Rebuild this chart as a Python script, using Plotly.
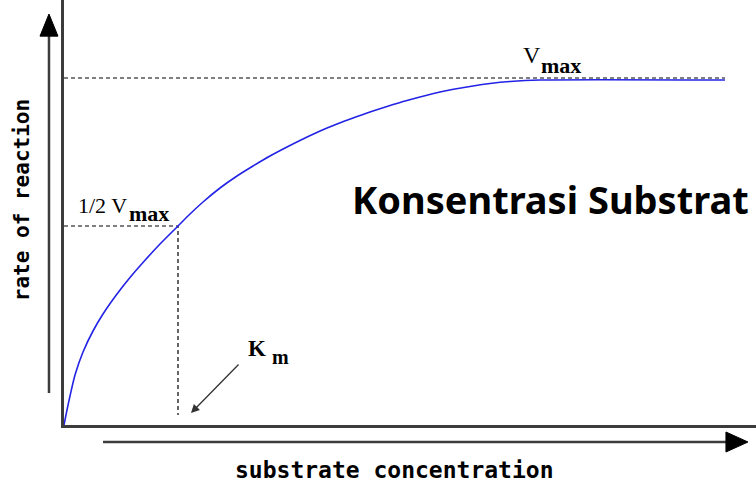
import plotly.graph_objects as go

# Reaction rate vs. substrate concentration (arbitrary units)
substrate = [0, 0.1, 0.3, 0.6, 1.1, 1.9, 2.9, 3.9, 5.3, 6.6, 7.9, 9.6, 11.4,
             12.6, 13.9, 15.6, 17.3, 18.9, 20.6, 22.3, 23.9, 25.6, 27.3, 28.9,
             30.6, 32.3, 34.3, 37.6, 40.9, 42.6, 44.6, 47.6, 66.1]
rate = [0, 0.5, 1.5, 2.9, 5.0, 7.3, 9.4, 11.1, 13.1, 14.75, 16.25, 18.1, 19.9,
        21.1, 22.3, 23.7, 24.9, 25.9, 26.9, 27.8, 28.6, 29.4, 30.1, 30.7,
        31.3, 31.85, 32.45, 33.3, 33.9, 34.15, 34.35, 34.5, 34.5]

v_max = 34.7
half_v_max = 19.9
k_m = 11.4
x_end = 66.1
km_line_bottom = 1.0

X_RANGE = [0, 69.2]
Y_RANGE = [0, 42.5]

AXIS_GREY = "#3c3c3c"
CURVE_BLUE = "#2323e6"

fig = go.Figure()

# Vmax reference line
fig.add_trace(go.Scatter(
    x=[0, x_end], y=[v_max, v_max], mode="lines",
    line=dict(color="black", width=1.2, dash="4px,3px"),
    hoverinfo="skip"))

# 1/2 Vmax and Km guides
fig.add_trace(go.Scatter(
    x=[0, k_m, k_m], y=[half_v_max, half_v_max, km_line_bottom], mode="lines",
    line=dict(color="black", width=1.2, dash="4px,3px"),
    hoverinfo="skip"))

# Saturation curve
fig.add_trace(go.Scatter(
    x=substrate, y=rate, mode="lines",
    line=dict(color=CURVE_BLUE, width=1.6, shape="spline", smoothing=0.7),
    hoverinfo="skip"))

serif = "Liberation Serif"
mono = "DejaVu Sans Mono"

annotations = [
    # Vmax label
    dict(x=46.8, y=37.0, text="V", font=dict(family=serif, size=24, color="black")),
    dict(x=49.7, y=35.95, text="<b>max</b>", font=dict(family=serif, size=22, color="black")),
    # 1/2 Vmax label
    dict(x=3.8, y=22.0, text="1/2 V", font=dict(family=serif, size=22, color="black")),
    dict(x=8.45, y=21.15, text="<b>max</b>", font=dict(family=serif, size=22, color="black")),
    # Km label
    dict(x=19.3, y=7.7, text="<b>K</b>", font=dict(family=serif, size=23, color="black")),
    dict(x=21.6, y=6.85, text="<b>m</b>", font=dict(family=serif, size=20, color="black")),
    # Heading inside the plot
    dict(x=48.6, y=22.6, text="<b>Konsentrasi Substrat</b>",
         font=dict(family="Noto Sans", size=38, color="black")),
]
for a in annotations:
    a.update(xref="x", yref="y", showarrow=False, xanchor="center", yanchor="middle")

# Arrow pointing at Km
annotations.append(dict(
    x=12.7, y=1.2, xref="x", yref="y", ax=49, ay=-50, text="",
    showarrow=True, arrowhead=2, arrowsize=1.3, arrowwidth=1.3, arrowcolor="#333333"))

# Axis titles
annotations.append(dict(
    x=0.478, y=-0.106, xref="paper", yref="paper", text="<b>substrate concentration</b>",
    showarrow=False, xanchor="center", yanchor="middle",
    font=dict(family=mono, size=23, color="black")))
annotations.append(dict(
    x=-0.0607, y=0.529, xref="paper", yref="paper", text="<b>rate of reaction</b>",
    showarrow=False, xanchor="center", yanchor="middle", textangle=-90,
    font=dict(family=mono, size=21, color="black")))

# Outer arrows beside the axes
shapes = [
    dict(type="line", xref="paper", yref="paper", x0=-0.0217, x1=-0.0217, y0=0.0753, y1=0.92,
         line=dict(color=AXIS_GREY, width=2.5)),
    dict(type="path", xref="paper", yref="paper",
         path="M -0.0347,0.915 L -0.0217,0.967 L -0.0087,0.915 Z",
         fillcolor="black", line=dict(color="black", width=1)),
    dict(type="line", xref="paper", yref="paper", x0=0.0564, x1=0.96, y0=-0.04, y1=-0.04,
         line=dict(color=AXIS_GREY, width=2.5)),
    dict(type="path", xref="paper", yref="paper",
         path="M 0.9566,-0.0165 L 0.9884,-0.04 L 0.9566,-0.0635 Z",
         fillcolor="black", line=dict(color="black", width=1)),
]

fig.update_layout(
    width=756, height=484,
    margin=dict(l=64, r=0, t=0, b=59),
    paper_bgcolor="white", plot_bgcolor="white",
    showlegend=False,
    annotations=annotations,
    shapes=shapes,
    xaxis=dict(range=X_RANGE, showgrid=False, zeroline=False, showticklabels=False,
               ticks="", showline=True, linecolor=AXIS_GREY, linewidth=2.5),
    yaxis=dict(range=Y_RANGE, showgrid=False, zeroline=False, showticklabels=False,
               ticks="", showline=True, linecolor=AXIS_GREY, linewidth=2.5),
)

fig.write_html("out.html")
